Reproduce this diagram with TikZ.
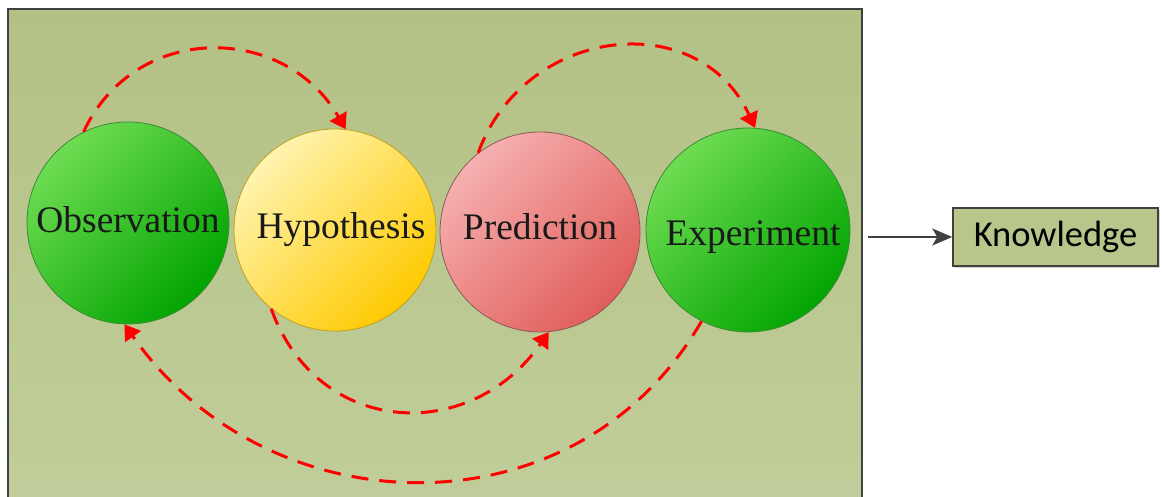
\documentclass[tikz,border=0pt]{standalone}
\usepackage{fontspec}
\setmainfont{Liberation Serif}
\newfontfamily\calibfont{Carlito}
\usetikzlibrary{arrows.meta,shadows}
\definecolor{panelTop}{HTML}{B3C185}
\definecolor{panelBot}{HTML}{C1CE9B}
\definecolor{greenLight}{HTML}{6EDC52}
\definecolor{greenDark}{HTML}{02A402}
\definecolor{greenEdge}{HTML}{3C8A34}
\definecolor{yellowLight}{HTML}{FFF4B0}
\definecolor{yellowDark}{HTML}{FFCA00}
\definecolor{yellowEdge}{HTML}{C2A020}
\definecolor{redLight}{HTML}{F6B0B0}
\definecolor{redDark}{HTML}{E05E5A}
\definecolor{redEdge}{HTML}{8C5A5A}
\definecolor{boxFill}{HTML}{B8C68B}
\begin{document}
\begin{tikzpicture}[x=1pt,y=1pt,
  stage/.style={circle,draw,line width=0.8pt,inner sep=0pt,shading angle=45},
  stage label/.style={anchor=base,inner sep=0pt,text=black!90,
    font=\fontsize{37.5}{40}\selectfont},
  loop arrow/.style={red,line width=3pt,dash pattern=on 17pt off 11pt,
    -{Triangle[length=15pt,width=19pt]}}]

  \clip (0,0) rectangle (1162,497);
  \shadedraw[top color=panelTop,bottom color=panelBot,draw=black!75,line width=2pt]
    (8,-20) rectangle (862,488);

  \node[stage,draw=greenEdge,top color=greenLight,bottom color=greenDark,
    shading angle=45,minimum size=202pt] (obs) at (128,274) {};
  \node[stage,draw=yellowEdge,top color=yellowLight,bottom color=yellowDark,
    shading angle=45,minimum size=202pt] (hyp) at (335,267) {};
  \node[stage,draw=redEdge,top color=redLight,bottom color=redDark,
    shading angle=45,minimum size=200pt] (pred) at (540,265) {};
  \node[stage,draw=greenEdge,top color=greenLight,bottom color=greenDark,
    shading angle=45,minimum size=204pt] (exp) at (748,267) {};

  \node[stage label] (obs text) at (128,264) {Observation};
  \node[stage label] (hyp text) at (341,258) {Hypothesis};
  \node[stage label] (pred text) at (540,257) {Prediction};
  \node[stage label] (exp text) at (753,251) {Experiment};

  \node[draw=black!75,fill=boxFill,line width=1.5pt,minimum width=205pt,
    minimum height=58pt,font=\calibfont\fontsize{36.5}{40}\selectfont,
    drop shadow={shadow xshift=2pt,shadow yshift=-2pt,opacity=0.35}]
    (know) at (1055.5,260) {Knowledge};
  \coordinate (exit) at (868,260);

  \path[loop arrow]
  (obs.116) edge[out=65,in=120,looseness=1.19] (hyp.84)
  (pred.128) edge[out=70,in=115,looseness=1.24] (exp.86)
  (hyp.231) edge[out=-70,in=-125,looseness=1.26] (pred.275)
  (exp.243) edge[out=-120,in=-55,looseness=1.11] (obs.268);

  \draw[black!75,line width=1.2pt,-{Stealth[length=20pt,width=17pt,inset=5pt]}]
    (exit) -- (know);
\end{tikzpicture}
\end{document}
